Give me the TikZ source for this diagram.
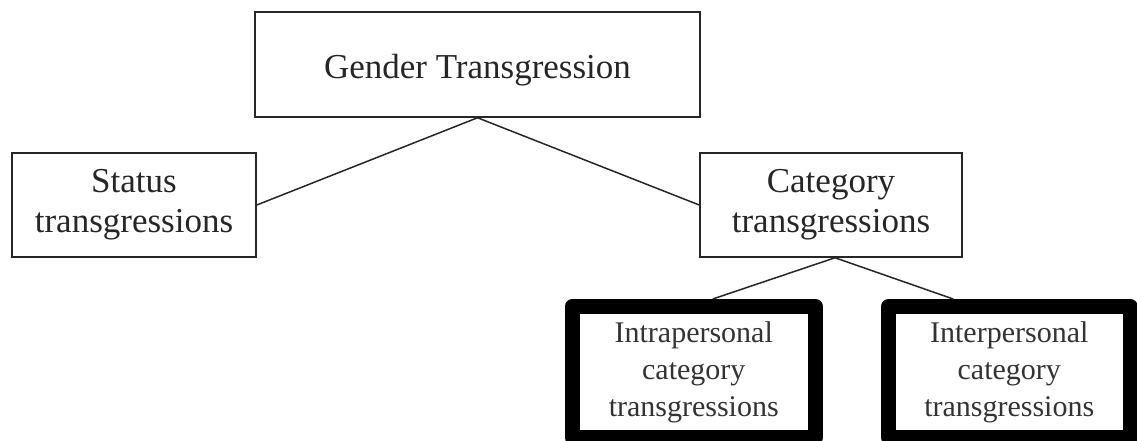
\documentclass[tikz,border=0pt]{standalone}
\usepackage{fontspec}
\setmainfont{Liberation Serif}
\begin{document}
\begin{tikzpicture}[x=1pt,y=-1pt,
  box/.style={draw=black!85, line width=1.5pt, rectangle, inner sep=0pt, align=center,
    font=\fontsize{35}{40}\selectfont, text=black!85},
  thickbox/.style={draw=black, line width=15pt, line join=round, rectangle, inner sep=0pt, align=center,
    font=\fontsize{30}{37}\selectfont, text=black!80},
  link/.style={draw=black!85, line width=1.5pt}]
\useasboundingbox (0,0) rectangle (1137,440);
\clip (0,0) rectangle (1137,440);
\node[box, minimum width=445pt, minimum height=105pt] (g) at (477.5,64.5) {};
\node[box, font=\fontsize{35}{40}\selectfont, draw=none, anchor=center] (gt) at (477.5,70) {Gender Transgression};
\node[box, minimum width=244pt, minimum height=104pt] (s) at (134,205) {Status\\transgressions};
\node[box, minimum width=262pt, minimum height=104pt] (c) at (831,205) {Category\\transgressions};
\node[thickbox, minimum width=243.5pt, minimum height=131pt] (ia) at (693.75,372) {Intrapersonal\\category\\transgressions};
\node[thickbox, minimum width=241.5pt, minimum height=131pt] (ie) at (1009.25,372) {Interpersonal\\category\\transgressions};
\draw[link] (g.south) -- (s.east);
\draw[link] (g.south) -- (c.west);
\draw[link] ([xshift=4pt]c.south) -- ([xshift=19pt]ia.north);
\draw[link] ([xshift=4pt]c.south) -- ([xshift=-56pt]ie.north);
\end{tikzpicture}
\end{document}
